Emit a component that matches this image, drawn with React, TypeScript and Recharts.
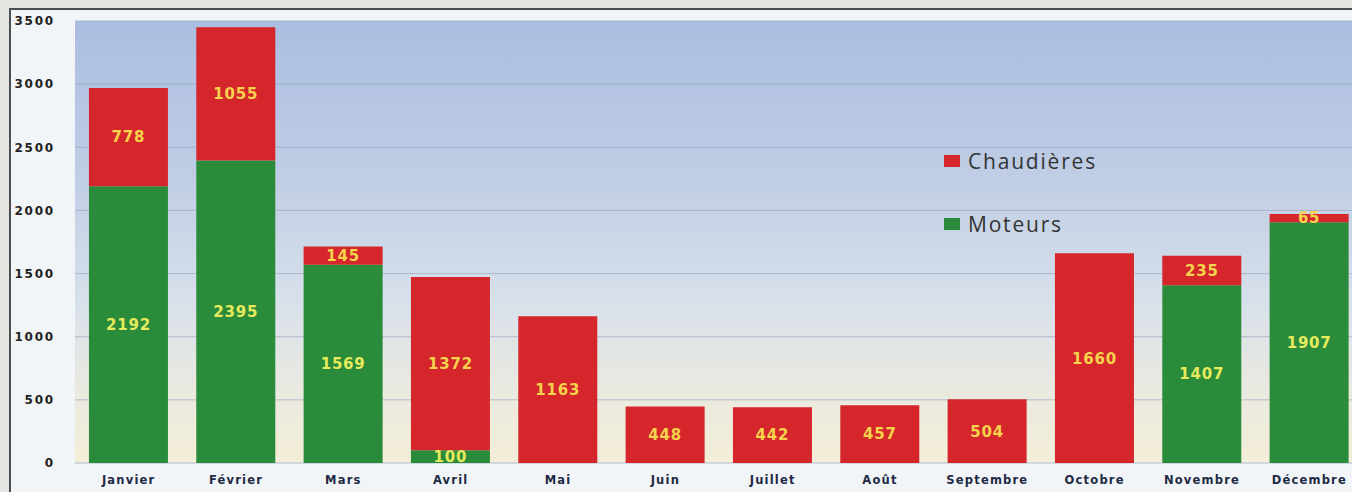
import React from 'react';
import { BarChart, Bar, XAxis, YAxis, CartesianGrid, Legend, LabelList } from 'recharts';

const months = ['Janvier', 'Février', 'Mars', 'Avril', 'Mai', 'Juin', 'Juillet', 'Août', 'Septembre', 'Octobre', 'Novembre', 'Décembre'];
const moteurs = [2192, 2395, 1569, 100, 0, 0, 0, 0, 0, 0, 1407, 1907];
const chaudieres = [778, 1055, 145, 1372, 1163, 448, 442, 457, 504, 1660, 235, 65];
const yTicks = [0, 500, 1000, 1500, 2000, 2500, 3000, 3500];

const data = months.map((m, i) => ({ month: m, Moteurs: moteurs[i], 'Chaudières': chaudieres[i] }));

const GREEN = '#2a8c3a';
const RED = '#d4262b';

const LegendContent = () => (
  <div style={{ fontFamily: '"Open Sans", sans-serif', fontSize: 21, color: '#333', letterSpacing: 1.8 }}>
    {[{ c: RED, t: 'Chaudières' }, { c: GREEN, t: 'Moteurs' }].map((it, i) => (
      <div key={it.t} style={{ display: 'flex', alignItems: 'center', height: 28, marginBottom: i === 0 ? 35 : 0 }}>
        <span style={{ display: 'inline-block', width: 16, height: 12, background: it.c, marginRight: 8 }} />
        <span>{it.t}</span>
      </div>
    ))}
  </div>
);

const fmt = (v: any) => (v ? v : '');

export default function App() {
  return (
    <div style={{ position: 'fixed', left: 0, top: 0, width: 1352, height: 492, overflow: 'hidden', background: '#e3e5e0' }}>
      <div style={{ position: 'absolute', left: 9, top: 8, width: 1400, height: 600, borderTop: '2px solid #4a4d52', borderLeft: '2px solid #4a4d52', background: '#f2f5f8' }} />
      <div style={{ position: 'absolute', left: 0, top: 0 }}>
        <BarChart width={1363} height={492} data={data} margin={{ top: 21, right: 0, bottom: 0, left: 0 }} barCategoryGap="13%">
          <defs>
            <linearGradient id="sky" x1="0" y1="0" x2="0" y2="1">
              <stop offset="0%" stopColor="#abbde0" />
              <stop offset="35%" stopColor="#bfcde5" />
              <stop offset="65%" stopColor="#d9e1ea" />
              <stop offset="85%" stopColor="#ebeadf" />
              <stop offset="100%" stopColor="#f3eed8" />
            </linearGradient>
          </defs>
          <CartesianGrid vertical={false} fill="url(#sky)" stroke="#98a8c0" strokeOpacity={0.7} />
          <XAxis dataKey="month" height={29} tickSize={0} tickMargin={13} axisLine={false} interval={0}
            tick={{ fill: '#1f2a44', fontSize: 11.5, fontWeight: 'bold', letterSpacing: 1.2, fontFamily: '"DejaVu Sans", sans-serif' }} />
          <YAxis width={75} domain={[0, 3500]} ticks={yTicks} tickSize={0} tickMargin={20} axisLine={false}
            tick={{ fill: '#222', fontSize: 12, fontWeight: 'bold', letterSpacing: 1.8, fontFamily: '"DejaVu Sans", sans-serif' }} />
          <Legend content={<LegendContent />} layout="vertical" verticalAlign="middle" align="center"
            wrapperStyle={{ left: 944, top: 147, width: 220 }} />
          <Bar dataKey="Moteurs" stackId="a" fill={GREEN} isAnimationActive={false}>
            <LabelList dataKey="Moteurs" position="center" formatter={fmt}
              style={{ fill: '#e6ea5c', fontSize: 15, fontWeight: 'bold', letterSpacing: 0.8, fontFamily: '"DejaVu Sans", sans-serif' }} />
          </Bar>
          <Bar dataKey="Chaudières" stackId="a" fill={RED} isAnimationActive={false}>
            <LabelList dataKey="Chaudières" position="center" formatter={fmt}
              style={{ fill: '#f6d34c', fontSize: 15, fontWeight: 'bold', letterSpacing: 0.8, fontFamily: '"DejaVu Sans", sans-serif' }} />
          </Bar>
        </BarChart>
      </div>
    </div>
  );
}
